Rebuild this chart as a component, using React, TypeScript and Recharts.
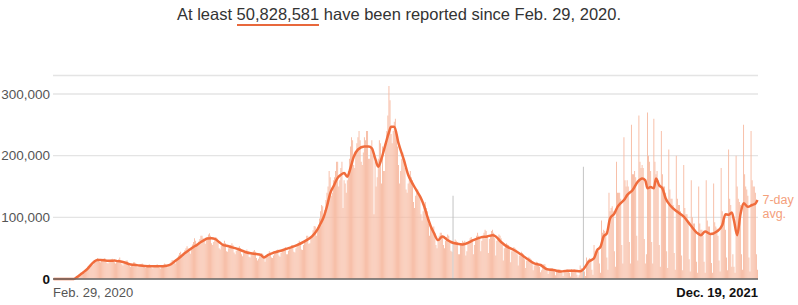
import React from 'react';
import { ComposedChart, Bar, Line, XAxis, YAxis, CartesianGrid, Cell } from 'recharts';

// daily reported cases in thousands, one row per week (Sat..Fri), starting Feb. 29, 2020
const dailyCases = [
  0, 0, 0, 0, 0, 0, 0,
  0, 0, 0, 0.1, 0.1, 0.1, 0.2,
  0.3, 0.4, 0.6, 0.8, 1, 1.5, 2,
  2.5, 3, 5, 6, 7, 8, 10,
  11, 13, 15, 17, 19, 21, 23,
  24, 22, 23, 27, 29, 32, 34,
  33, 28, 27, 29, 31, 33, 34,
  30, 26, 25, 27, 30, 32, 33,
  31, 27, 25, 27, 29, 32, 35,
  29, 24, 22, 25, 27, 30, 30,
  26, 21, 20, 22, 23, 27, 27,
  25, 21, 19, 21, 22, 24, 25,
  23, 19, 18, 19, 21, 23, 24,
  22, 18, 17, 19, 20, 22, 24,
  22, 18, 17, 19, 21, 23, 25,
  24, 20, 19, 22, 24, 28, 31,
  30, 26, 25, 30, 35, 38, 42,
  44, 38, 36, 42, 47, 50, 53,
  50, 44, 41, 48, 56, 60, 66,
  62, 53, 55, 61, 65, 70, 70,
  66, 62, 57, 63, 68, 72, 74,
  70, 58, 55, 60, 64, 68, 66,
  60, 50, 48, 54, 56, 58, 62,
  58, 45, 44, 50, 53, 55, 58,
  55, 43, 40, 46, 50, 51, 53,
  50, 40, 37, 42, 45, 46, 48,
  45, 36, 35, 40, 42, 45, 47,
  44, 34, 30, 33, 37, 40, 42,
  40, 34, 28, 35, 38, 40, 45,
  43, 35, 34, 38, 41, 44, 47,
  48, 38, 36, 42, 45, 48, 50,
  52, 40, 40, 46, 49, 52, 55,
  55, 44, 43, 50, 53, 58, 62,
  60, 48, 47, 55, 60, 64, 70,
  70, 57, 58, 66, 70, 79, 86,
  85, 70, 80, 88, 98, 110, 120,
  118, 100, 112, 128, 140, 150, 175,
  165, 135, 140, 160, 165, 175, 190,
  190, 150, 160, 180, 190, 115, 160,
  155, 140, 160, 175, 195, 215, 230,
  225, 185, 180, 205, 220, 230, 240,
  225, 190, 185, 205, 230, 225, 240,
  240, 195, 195, 215, 225, 200, 105,
  190, 150, 165, 195, 225, 220, 155,
  215, 175, 175, 220, 240, 265, 313,
  290, 235, 220, 240, 255, 260, 235,
  215, 185, 155, 175, 195, 205, 195,
  180, 145, 140, 155, 160, 175, 165,
  160, 125, 115, 135, 140, 145, 135,
  135, 105, 95, 110, 120, 125, 115,
  110, 90, 70, 85, 80, 80, 85,
  75, 55, 50, 60, 70, 75, 75,
  70, 55, 50, 62, 68, 72, 70,
  62, 46, 44, 135, 60, 64, 62,
  60, 40, 40, 55, 58, 62, 60,
  62, 38, 45, 58, 62, 66, 68,
  65, 40, 55, 63, 70, 75, 70,
  68, 45, 62, 68, 75, 80, 78,
  68, 42, 65, 70, 78, 80, 75,
  66, 38, 62, 64, 72, 70, 66,
  55, 30, 50, 52, 58, 56, 55,
  48, 27, 45, 45, 52, 50, 48,
  40, 22, 38, 38, 44, 42, 40,
  32, 18, 30, 30, 36, 34, 32,
  25, 14, 22, 24, 28, 27, 24,
  20, 11, 14, 22, 24, 24, 20,
  14, 8, 14, 17, 18, 18, 16,
  12, 6, 14, 15, 16, 16, 14,
  10, 5, 15, 14, 15, 15, 13,
  10, 4, 16, 14, 15, 16, 14,
  7, 3, 6, 22, 18, 17, 182,
  12, 5, 35, 30, 32, 34, 30,
  15, 7, 55, 45, 48, 50, 45,
  25, 10, 95, 75, 80, 78, 72,
  35, 15, 140, 110, 115, 118, 110,
  45, 20, 190, 140, 140, 140, 130,
  55, 25, 230, 160, 150, 160, 150,
  60, 25, 250, 170, 170, 175, 165,
  70, 30, 265, 190, 180, 185, 180,
  65, 25, 40, 270, 200, 190, 175,
  60, 25, 260, 190, 170, 175, 160,
  55, 20, 240, 170, 150, 150, 140,
  45, 18, 210, 145, 130, 130, 120,
  42, 15, 200, 130, 120, 120, 110,
  38, 14, 185, 115, 105, 105, 95,
  32, 12, 160, 100, 90, 90, 80,
  28, 10, 150, 90, 80, 80, 70,
  28, 10, 160, 95, 85, 85, 72,
  26, 10, 155, 92, 85, 82, 70,
  30, 12, 180, 110, 100, 95, 80,
  35, 14, 210, 130, 120, 20, 40,
  20, 10, 200, 150, 130, 125, 120,
  40, 15, 250, 170, 150, 145, 135,
  35, 12, 240, 160, 150, 150, 140,
  40, 15,
];

// days drawn in grey (data dumps)
const greyDays = [374, 496];

// 7-day average: [day index, thousands]
const avgPoints: [number, number][] = [
  [0, 0], [19, 0], [22, 3], [25, 7], [28, 11], [32, 17], [35, 23], [38, 28], [41, 31], [44, 31],
  [50, 29.5], [54, 29.5], [57, 30], [60, 29], [64, 28], [68, 26], [71, 24], [75, 23], [78, 22.5],
  [85, 21], [92, 20.5], [99, 20.5], [106, 21.5], [110, 24], [113, 28], [116, 32], [119, 36],
  [123, 42], [127, 47], [131, 52], [134, 55], [138, 60], [141, 63], [144, 65.5], [148, 66],
  [151, 65], [155, 60], [159, 55], [162, 54], [166, 52], [170, 50], [175, 47], [181, 43],
  [186, 41.5], [190, 40.5], [194, 39], [197, 35], [201, 39], [205, 42], [210, 44.5], [215, 47],
  [220, 50], [228, 55], [235, 61], [242, 69], [247, 80], [250, 90], [253, 101], [256, 118],
  [259, 139], [262, 150], [266, 164], [269, 169], [272, 172], [275, 166], [278, 180], [281, 198],
  [285, 210], [291, 215], [295, 215], [298, 212], [301, 196], [304, 182], [307, 195], [311, 220],
  [314, 238], [316, 247], [319, 247], [323, 220], [328, 193], [332, 169], [337, 152], [341, 140],
  [344, 131], [347, 118], [350, 101], [353, 86], [356, 75], [360, 63], [364, 69], [369, 63],
  [372, 60], [378, 57], [383, 56], [387, 58], [393, 63], [400, 67.5], [406, 69], [411, 71],
  [414, 69], [419, 60], [425, 52], [431, 47], [437, 40.5], [444, 32], [450, 25.4], [456, 22.7],
  [462, 15.7], [468, 14.6], [475, 12], [481, 13.5], [487, 13.5], [493, 12.5], [496, 15.7],
  [501, 28], [506, 33.5], [509, 47], [512, 52], [515, 69], [518, 74], [521, 98], [525, 106],
  [528, 117], [531, 123], [534, 128], [537, 136], [542, 144], [547, 158], [551, 163], [554, 160],
  [556, 147], [559, 149], [562, 147], [564, 163], [567, 152], [570, 147], [573, 131], [578, 118],
  [584, 109], [590, 101], [596, 88], [603, 74], [606, 71], [610, 77], [615, 73], [621, 77],
  [626, 87], [629, 105], [632, 104], [635, 108], [637, 95], [640, 71], [643, 104], [646, 123],
  [650, 117], [654, 120], [657, 122], [659, 128],
];

const xTickLabels = ['Feb. 29, 2020', 'Dec. 19, 2021'];
const yTicks = [0, 100, 200, 300];

const avgByDay = new Map(avgPoints);
const data = dailyCases.map((v, i) => ({
  day: i,
  cases: v,
  avg: avgByDay.has(i) ? avgByDay.get(i) : null,
}));
const lastIdx = data.length - 1;

const font = '"Liberation Sans", Arial, sans-serif';

const YTick = ({ y, payload }: any) => {
  const zero = payload.value === 0;
  return (
    <text x={50} y={y} dy={4.5} textAnchor="end" fontSize={13.5} fontFamily={font}
      fill={zero ? '#111' : '#555'} fontWeight={zero ? 700 : 400}>
      {(payload.value * 1000).toLocaleString('en-US')}
    </text>
  );
};

const XTick = ({ x, payload }: any) => {
  const first = payload.value === 0;
  return (
    <text x={first ? x - 0.5 : x + 0.5} y={297} textAnchor={first ? 'start' : 'end'} fontSize={13}
      fontFamily={font} fill={first ? '#555' : '#111'} fontWeight={first ? 400 : 700}>
      {first ? xTickLabels[0] : xTickLabels[1]}
    </text>
  );
};

const AvgLabel = (p: any) => {
  if (p.index !== lastIdx || p.x == null) return null;
  return (
    <g fontFamily={font} fontSize={12.5} fill="#f4a07c">
      <text x={p.x + 5} y={p.y + 4}>7-day</text>
      <text x={p.x + 5} y={p.y + 18}>avg.</text>
    </g>
  );
};

export default function App() {
  return (
    <div style={{ position: 'absolute', left: 0, top: 0, width: 798, height: 305, background: '#fff' }}>
      <div style={{ position: 'absolute', top: 5, left: 0, width: 798, textAlign: 'center', fontFamily: font, fontSize: 16.5, color: '#333' }}>
        At least{' '}
        <span style={{ borderBottom: '2.5px solid #e8683c', paddingBottom: 1 }}>50,828,581</span>{' '}
        have been reported since Feb. 29, 2020.
      </div>
      <ComposedChart width={798} height={305} data={data} barCategoryGap="8%"
        margin={{ top: 75.5, right: 40, bottom: 0, left: 0 }}>
        <CartesianGrid vertical={false} stroke="#e4e4e4" strokeWidth={1.3} />
        <XAxis dataKey="day" ticks={[0, lastIdx]} interval={0} height={26} tick={<XTick />}
          tickLine={false} axisLine={{ stroke: '#666', strokeWidth: 1.5 }} />
        <YAxis domain={[0, 330]} ticks={yTicks} width={53} tick={<YTick />}
          tickLine={false} axisLine={false} />
        <Bar dataKey="cases" isAnimationActive={false}>
          {data.map((d) => (
            <Cell key={d.day} fill={greyDays.includes(d.day) ? '#bdbdbd' : '#f7b9a0'} />
          ))}
        </Bar>
        <Line dataKey="avg" type="monotone" connectNulls dot={false} stroke="#f06c3c" strokeWidth={2.5}
          isAnimationActive={false} label={<AvgLabel />} />
      </ComposedChart>
    </div>
  );
}
